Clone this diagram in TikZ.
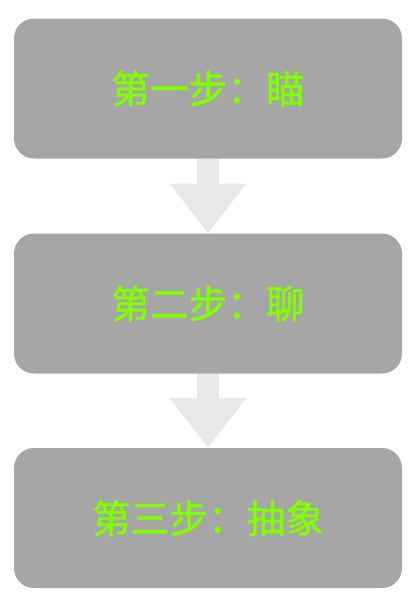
\documentclass[tikz,border=0pt]{standalone}
\usepackage{fontspec}
\newfontfamily\cjk[FakeBold=1.2]{Noto Sans CJK SC}
\usetikzlibrary{arrows.meta}
\definecolor{boxgray}{RGB}{166,166,166}
\definecolor{arrowgray}{RGB}{232,232,232}
\definecolor{stepgreen}{RGB}{128,255,0}
\begin{document}
\begin{tikzpicture}[x=0.75pt,y=-0.75pt,
	stepbox/.style={fill=boxgray,rounded corners=15pt,minimum width=291pt,minimum height=105pt,outer sep=0pt,inner sep=0pt,text=stepgreen,font=\cjk\fontsize{29pt}{32pt}\selectfont},
	flow/.style={draw=arrowgray,line width=17pt,-{Triangle[length=37.5pt,width=55pt]}}]
	\useasboundingbox (0,0) rectangle (419,600);
	\node[stepbox] (s1) at (208,88.5) {第一步：瞄};
	\node[stepbox] (s2) at (208,303.5) {第二步：聊};
	\node[stepbox] (s3) at (208,518) {第三步：抽象};
	\draw[flow] (s1.south) -- (s2.north);
	\draw[flow] (s2.south) -- (s3.north);
\end{tikzpicture}
\end{document}
